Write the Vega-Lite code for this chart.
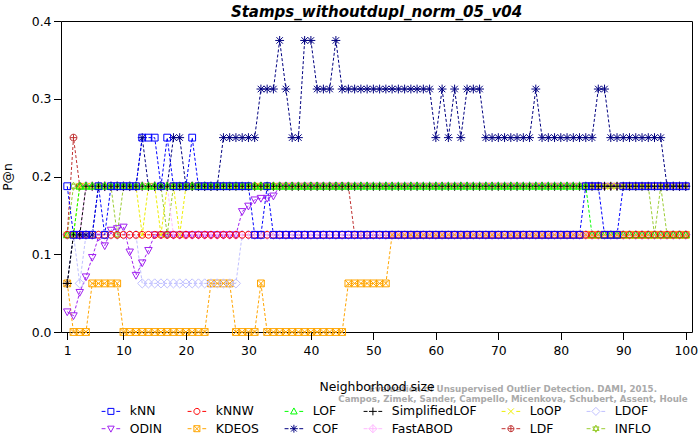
{
"$schema": "https://vega.github.io/schema/vega-lite/v6.json",
"width": 631, "height": 311,
"autosize": "none",
"padding": {"left": 61, "top": 21, "right": 7, "bottom": 102},
"background": "white",
"title": {"text": "Stamps_withoutdupl_norm_05_v04", "font": "DejaVu Sans", "fontSize": 15, "fontStyle": "italic", "fontWeight": "bold", "color": "#000000", "anchor": "middle", "frame": "group", "offset": -5},
"config": {
  "view": {"stroke": "#000000", "strokeWidth": 1},
  "axis": {"labelFont": "DejaVu Sans", "titleFont": "DejaVu Sans", "labelFontSize": 12.4, "titleFontSize": 12.4, "labelColor": "#000000", "titleColor": "#000000", "tickColor": "#000000", "titleFontWeight": "normal", "grid": false, "domain": false, "tickSize": 7.5, "labelFlush": false}
},
"data": {"values": [
{"m":"INFLO","k":1,"v":0.125},{"m":"INFLO","k":2,"v":0.1875},{"m":"INFLO","k":3,"v":0.1875},{"m":"INFLO","k":4,"v":0.1875},{"m":"INFLO","k":5,"v":0.1875},{"m":"INFLO","k":6,"v":0.1875},{"m":"INFLO","k":7,"v":0.1875},{"m":"INFLO","k":8,"v":0.1875},{"m":"INFLO","k":9,"v":0.125},{"m":"INFLO","k":10,"v":0.1875},
{"m":"INFLO","k":11,"v":0.1875},{"m":"INFLO","k":12,"v":0.1875},{"m":"INFLO","k":13,"v":0.1875},{"m":"INFLO","k":14,"v":0.1875},{"m":"INFLO","k":15,"v":0.1875},{"m":"INFLO","k":16,"v":0.1875},{"m":"INFLO","k":17,"v":0.125},{"m":"INFLO","k":18,"v":0.1875},{"m":"INFLO","k":19,"v":0.1875},{"m":"INFLO","k":20,"v":0.1875},
{"m":"INFLO","k":21,"v":0.1875},{"m":"INFLO","k":22,"v":0.1875},{"m":"INFLO","k":23,"v":0.1875},{"m":"INFLO","k":24,"v":0.1875},{"m":"INFLO","k":25,"v":0.1875},{"m":"INFLO","k":26,"v":0.1875},{"m":"INFLO","k":27,"v":0.1875},{"m":"INFLO","k":28,"v":0.1875},{"m":"INFLO","k":29,"v":0.1875},{"m":"INFLO","k":30,"v":0.1875},
{"m":"INFLO","k":31,"v":0.1875},{"m":"INFLO","k":32,"v":0.1875},{"m":"INFLO","k":33,"v":0.1875},{"m":"INFLO","k":34,"v":0.1875},{"m":"INFLO","k":35,"v":0.1875},{"m":"INFLO","k":36,"v":0.1875},{"m":"INFLO","k":37,"v":0.1875},{"m":"INFLO","k":38,"v":0.1875},{"m":"INFLO","k":39,"v":0.1875},{"m":"INFLO","k":40,"v":0.1875},
{"m":"INFLO","k":41,"v":0.1875},{"m":"INFLO","k":42,"v":0.1875},{"m":"INFLO","k":43,"v":0.1875},{"m":"INFLO","k":44,"v":0.1875},{"m":"INFLO","k":45,"v":0.1875},{"m":"INFLO","k":46,"v":0.1875},{"m":"INFLO","k":47,"v":0.1875},{"m":"INFLO","k":48,"v":0.1875},{"m":"INFLO","k":49,"v":0.1875},{"m":"INFLO","k":50,"v":0.1875},
{"m":"INFLO","k":51,"v":0.1875},{"m":"INFLO","k":52,"v":0.1875},{"m":"INFLO","k":53,"v":0.1875},{"m":"INFLO","k":54,"v":0.1875},{"m":"INFLO","k":55,"v":0.1875},{"m":"INFLO","k":56,"v":0.1875},{"m":"INFLO","k":57,"v":0.1875},{"m":"INFLO","k":58,"v":0.1875},{"m":"INFLO","k":59,"v":0.1875},{"m":"INFLO","k":60,"v":0.1875},
{"m":"INFLO","k":61,"v":0.1875},{"m":"INFLO","k":62,"v":0.1875},{"m":"INFLO","k":63,"v":0.1875},{"m":"INFLO","k":64,"v":0.1875},{"m":"INFLO","k":65,"v":0.1875},{"m":"INFLO","k":66,"v":0.1875},{"m":"INFLO","k":67,"v":0.1875},{"m":"INFLO","k":68,"v":0.1875},{"m":"INFLO","k":69,"v":0.1875},{"m":"INFLO","k":70,"v":0.1875},
{"m":"INFLO","k":71,"v":0.1875},{"m":"INFLO","k":72,"v":0.1875},{"m":"INFLO","k":73,"v":0.1875},{"m":"INFLO","k":74,"v":0.1875},{"m":"INFLO","k":75,"v":0.1875},{"m":"INFLO","k":76,"v":0.1875},{"m":"INFLO","k":77,"v":0.1875},{"m":"INFLO","k":78,"v":0.1875},{"m":"INFLO","k":79,"v":0.1875},{"m":"INFLO","k":80,"v":0.1875},
{"m":"INFLO","k":81,"v":0.1875},{"m":"INFLO","k":82,"v":0.1875},{"m":"INFLO","k":83,"v":0.1875},{"m":"INFLO","k":84,"v":0.1875},{"m":"INFLO","k":85,"v":0.1875},{"m":"INFLO","k":86,"v":0.1875},{"m":"INFLO","k":87,"v":0.1875},{"m":"INFLO","k":88,"v":0.1875},{"m":"INFLO","k":89,"v":0.1875},{"m":"INFLO","k":90,"v":0.1875},
{"m":"INFLO","k":91,"v":0.1875},{"m":"INFLO","k":92,"v":0.1875},{"m":"INFLO","k":93,"v":0.1875},{"m":"INFLO","k":94,"v":0.1875},{"m":"INFLO","k":95,"v":0.125},{"m":"INFLO","k":96,"v":0.1875},{"m":"INFLO","k":97,"v":0.125},{"m":"INFLO","k":98,"v":0.125},{"m":"INFLO","k":99,"v":0.125},{"m":"INFLO","k":100,"v":0.125},
{"m":"LDF","k":1,"v":0.125},{"m":"LDF","k":2,"v":0.25},{"m":"LDF","k":3,"v":0.1875},{"m":"LDF","k":4,"v":0.1875},{"m":"LDF","k":5,"v":0.1875},{"m":"LDF","k":6,"v":0.1875},{"m":"LDF","k":7,"v":0.1875},{"m":"LDF","k":8,"v":0.1875},{"m":"LDF","k":9,"v":0.1875},{"m":"LDF","k":10,"v":0.1875},
{"m":"LDF","k":11,"v":0.1875},{"m":"LDF","k":12,"v":0.1875},{"m":"LDF","k":13,"v":0.1875},{"m":"LDF","k":14,"v":0.1875},{"m":"LDF","k":15,"v":0.1875},{"m":"LDF","k":16,"v":0.1875},{"m":"LDF","k":17,"v":0.1875},{"m":"LDF","k":18,"v":0.1875},{"m":"LDF","k":19,"v":0.1875},{"m":"LDF","k":20,"v":0.1875},
{"m":"LDF","k":21,"v":0.1875},{"m":"LDF","k":22,"v":0.1875},{"m":"LDF","k":23,"v":0.1875},{"m":"LDF","k":24,"v":0.1875},{"m":"LDF","k":25,"v":0.1875},{"m":"LDF","k":26,"v":0.1875},{"m":"LDF","k":27,"v":0.1875},{"m":"LDF","k":28,"v":0.1875},{"m":"LDF","k":29,"v":0.1875},{"m":"LDF","k":30,"v":0.1875},
{"m":"LDF","k":31,"v":0.1875},{"m":"LDF","k":32,"v":0.1875},{"m":"LDF","k":33,"v":0.1875},{"m":"LDF","k":34,"v":0.1875},{"m":"LDF","k":35,"v":0.1875},{"m":"LDF","k":36,"v":0.1875},{"m":"LDF","k":37,"v":0.1875},{"m":"LDF","k":38,"v":0.1875},{"m":"LDF","k":39,"v":0.1875},{"m":"LDF","k":40,"v":0.1875},
{"m":"LDF","k":41,"v":0.1875},{"m":"LDF","k":42,"v":0.1875},{"m":"LDF","k":43,"v":0.1875},{"m":"LDF","k":44,"v":0.1875},{"m":"LDF","k":45,"v":0.1875},{"m":"LDF","k":46,"v":0.1875},{"m":"LDF","k":47,"v":0.125},{"m":"LDF","k":48,"v":0.125},{"m":"LDF","k":49,"v":0.125},{"m":"LDF","k":50,"v":0.125},
{"m":"LDF","k":51,"v":0.125},{"m":"LDF","k":52,"v":0.125},{"m":"LDF","k":53,"v":0.125},{"m":"LDF","k":54,"v":0.125},{"m":"LDF","k":55,"v":0.125},{"m":"LDF","k":56,"v":0.125},{"m":"LDF","k":57,"v":0.125},{"m":"LDF","k":58,"v":0.125},{"m":"LDF","k":59,"v":0.125},{"m":"LDF","k":60,"v":0.125},
{"m":"LDF","k":61,"v":0.125},{"m":"LDF","k":62,"v":0.125},{"m":"LDF","k":63,"v":0.125},{"m":"LDF","k":64,"v":0.125},{"m":"LDF","k":65,"v":0.125},{"m":"LDF","k":66,"v":0.125},{"m":"LDF","k":67,"v":0.125},{"m":"LDF","k":68,"v":0.125},{"m":"LDF","k":69,"v":0.125},{"m":"LDF","k":70,"v":0.125},
{"m":"LDF","k":71,"v":0.125},{"m":"LDF","k":72,"v":0.125},{"m":"LDF","k":73,"v":0.125},{"m":"LDF","k":74,"v":0.125},{"m":"LDF","k":75,"v":0.125},{"m":"LDF","k":76,"v":0.125},{"m":"LDF","k":77,"v":0.125},{"m":"LDF","k":78,"v":0.125},{"m":"LDF","k":79,"v":0.125},{"m":"LDF","k":80,"v":0.125},
{"m":"LDF","k":81,"v":0.125},{"m":"LDF","k":82,"v":0.125},{"m":"LDF","k":83,"v":0.125},{"m":"LDF","k":84,"v":0.125},{"m":"LDF","k":85,"v":0.125},{"m":"LDF","k":86,"v":0.125},{"m":"LDF","k":87,"v":0.125},{"m":"LDF","k":88,"v":0.125},{"m":"LDF","k":89,"v":0.125},{"m":"LDF","k":90,"v":0.125},
{"m":"LDF","k":91,"v":0.125},{"m":"LDF","k":92,"v":0.125},{"m":"LDF","k":93,"v":0.125},{"m":"LDF","k":94,"v":0.125},{"m":"LDF","k":95,"v":0.125},{"m":"LDF","k":96,"v":0.125},{"m":"LDF","k":97,"v":0.125},{"m":"LDF","k":98,"v":0.125},{"m":"LDF","k":99,"v":0.125},{"m":"LDF","k":100,"v":0.125},
{"m":"FastABOD","k":1,"v":0.125},{"m":"FastABOD","k":2,"v":0.125},{"m":"FastABOD","k":3,"v":0.125},{"m":"FastABOD","k":4,"v":0.1875},{"m":"FastABOD","k":5,"v":0.1875},{"m":"FastABOD","k":6,"v":0.1875},{"m":"FastABOD","k":7,"v":0.1875},{"m":"FastABOD","k":8,"v":0.1875},{"m":"FastABOD","k":9,"v":0.1875},{"m":"FastABOD","k":10,"v":0.1875},
{"m":"FastABOD","k":11,"v":0.1875},{"m":"FastABOD","k":12,"v":0.1875},{"m":"FastABOD","k":13,"v":0.1875},{"m":"FastABOD","k":14,"v":0.1875},{"m":"FastABOD","k":15,"v":0.1875},{"m":"FastABOD","k":16,"v":0.1875},{"m":"FastABOD","k":17,"v":0.1875},{"m":"FastABOD","k":18,"v":0.125},{"m":"FastABOD","k":19,"v":0.125},{"m":"FastABOD","k":20,"v":0.125},
{"m":"FastABOD","k":21,"v":0.125},{"m":"FastABOD","k":22,"v":0.125},{"m":"FastABOD","k":23,"v":0.125},{"m":"FastABOD","k":24,"v":0.125},{"m":"FastABOD","k":25,"v":0.125},{"m":"FastABOD","k":26,"v":0.125},{"m":"FastABOD","k":27,"v":0.125},{"m":"FastABOD","k":28,"v":0.125},{"m":"FastABOD","k":29,"v":0.125},{"m":"FastABOD","k":30,"v":0.125},
{"m":"FastABOD","k":31,"v":0.125},{"m":"FastABOD","k":32,"v":0.125},{"m":"FastABOD","k":33,"v":0.125},{"m":"FastABOD","k":34,"v":0.125},{"m":"FastABOD","k":35,"v":0.125},{"m":"FastABOD","k":36,"v":0.125},{"m":"FastABOD","k":37,"v":0.125},{"m":"FastABOD","k":38,"v":0.125},{"m":"FastABOD","k":39,"v":0.125},{"m":"FastABOD","k":40,"v":0.125},
{"m":"FastABOD","k":41,"v":0.125},{"m":"FastABOD","k":42,"v":0.125},{"m":"FastABOD","k":43,"v":0.125},{"m":"FastABOD","k":44,"v":0.125},{"m":"FastABOD","k":45,"v":0.125},{"m":"FastABOD","k":46,"v":0.125},{"m":"FastABOD","k":47,"v":0.125},{"m":"FastABOD","k":48,"v":0.125},{"m":"FastABOD","k":49,"v":0.125},{"m":"FastABOD","k":50,"v":0.125},
{"m":"FastABOD","k":51,"v":0.125},{"m":"FastABOD","k":52,"v":0.125},{"m":"FastABOD","k":53,"v":0.125},{"m":"FastABOD","k":54,"v":0.125},{"m":"FastABOD","k":55,"v":0.125},{"m":"FastABOD","k":56,"v":0.125},{"m":"FastABOD","k":57,"v":0.125},{"m":"FastABOD","k":58,"v":0.125},{"m":"FastABOD","k":59,"v":0.125},{"m":"FastABOD","k":60,"v":0.125},
{"m":"FastABOD","k":61,"v":0.125},{"m":"FastABOD","k":62,"v":0.125},{"m":"FastABOD","k":63,"v":0.125},{"m":"FastABOD","k":64,"v":0.125},{"m":"FastABOD","k":65,"v":0.125},{"m":"FastABOD","k":66,"v":0.125},{"m":"FastABOD","k":67,"v":0.125},{"m":"FastABOD","k":68,"v":0.125},{"m":"FastABOD","k":69,"v":0.125},{"m":"FastABOD","k":70,"v":0.125},
{"m":"FastABOD","k":71,"v":0.125},{"m":"FastABOD","k":72,"v":0.125},{"m":"FastABOD","k":73,"v":0.125},{"m":"FastABOD","k":74,"v":0.125},{"m":"FastABOD","k":75,"v":0.125},{"m":"FastABOD","k":76,"v":0.125},{"m":"FastABOD","k":77,"v":0.125},{"m":"FastABOD","k":78,"v":0.125},{"m":"FastABOD","k":79,"v":0.125},{"m":"FastABOD","k":80,"v":0.125},
{"m":"FastABOD","k":81,"v":0.125},{"m":"FastABOD","k":82,"v":0.125},{"m":"FastABOD","k":83,"v":0.125},{"m":"FastABOD","k":84,"v":0.125},{"m":"FastABOD","k":85,"v":0.125},{"m":"FastABOD","k":86,"v":0.125},{"m":"FastABOD","k":87,"v":0.125},{"m":"FastABOD","k":88,"v":0.125},{"m":"FastABOD","k":89,"v":0.125},{"m":"FastABOD","k":90,"v":0.125},
{"m":"FastABOD","k":91,"v":0.125},{"m":"FastABOD","k":92,"v":0.125},{"m":"FastABOD","k":93,"v":0.125},{"m":"FastABOD","k":94,"v":0.125},{"m":"FastABOD","k":95,"v":0.125},{"m":"FastABOD","k":96,"v":0.125},{"m":"FastABOD","k":97,"v":0.125},{"m":"FastABOD","k":98,"v":0.125},{"m":"FastABOD","k":99,"v":0.125},{"m":"FastABOD","k":100,"v":0.125},
{"m":"COF","k":1,"v":0.0625},{"m":"COF","k":2,"v":0.125},{"m":"COF","k":3,"v":0.125},{"m":"COF","k":4,"v":0.125},{"m":"COF","k":5,"v":0.125},{"m":"COF","k":6,"v":0.1875},{"m":"COF","k":7,"v":0.1875},{"m":"COF","k":8,"v":0.1875},{"m":"COF","k":9,"v":0.1875},{"m":"COF","k":10,"v":0.1875},
{"m":"COF","k":11,"v":0.1875},{"m":"COF","k":12,"v":0.1875},{"m":"COF","k":13,"v":0.25},{"m":"COF","k":14,"v":0.1875},{"m":"COF","k":15,"v":0.1875},{"m":"COF","k":16,"v":0.1875},{"m":"COF","k":17,"v":0.1875},{"m":"COF","k":18,"v":0.25},{"m":"COF","k":19,"v":0.25},{"m":"COF","k":20,"v":0.1875},
{"m":"COF","k":21,"v":0.1875},{"m":"COF","k":22,"v":0.1875},{"m":"COF","k":23,"v":0.1875},{"m":"COF","k":24,"v":0.1875},{"m":"COF","k":25,"v":0.1875},{"m":"COF","k":26,"v":0.25},{"m":"COF","k":27,"v":0.25},{"m":"COF","k":28,"v":0.25},{"m":"COF","k":29,"v":0.25},{"m":"COF","k":30,"v":0.25},
{"m":"COF","k":31,"v":0.25},{"m":"COF","k":32,"v":0.3125},{"m":"COF","k":33,"v":0.3125},{"m":"COF","k":34,"v":0.3125},{"m":"COF","k":35,"v":0.375},{"m":"COF","k":36,"v":0.3125},{"m":"COF","k":37,"v":0.25},{"m":"COF","k":38,"v":0.25},{"m":"COF","k":39,"v":0.375},{"m":"COF","k":40,"v":0.375},
{"m":"COF","k":41,"v":0.3125},{"m":"COF","k":42,"v":0.3125},{"m":"COF","k":43,"v":0.3125},{"m":"COF","k":44,"v":0.375},{"m":"COF","k":45,"v":0.3125},{"m":"COF","k":46,"v":0.3125},{"m":"COF","k":47,"v":0.3125},{"m":"COF","k":48,"v":0.3125},{"m":"COF","k":49,"v":0.3125},{"m":"COF","k":50,"v":0.3125},
{"m":"COF","k":51,"v":0.3125},{"m":"COF","k":52,"v":0.3125},{"m":"COF","k":53,"v":0.3125},{"m":"COF","k":54,"v":0.3125},{"m":"COF","k":55,"v":0.3125},{"m":"COF","k":56,"v":0.3125},{"m":"COF","k":57,"v":0.3125},{"m":"COF","k":58,"v":0.3125},{"m":"COF","k":59,"v":0.3125},{"m":"COF","k":60,"v":0.25},
{"m":"COF","k":61,"v":0.3125},{"m":"COF","k":62,"v":0.25},{"m":"COF","k":63,"v":0.3125},{"m":"COF","k":64,"v":0.25},{"m":"COF","k":65,"v":0.3125},{"m":"COF","k":66,"v":0.3125},{"m":"COF","k":67,"v":0.3125},{"m":"COF","k":68,"v":0.25},{"m":"COF","k":69,"v":0.25},{"m":"COF","k":70,"v":0.25},
{"m":"COF","k":71,"v":0.25},{"m":"COF","k":72,"v":0.25},{"m":"COF","k":73,"v":0.25},{"m":"COF","k":74,"v":0.25},{"m":"COF","k":75,"v":0.25},{"m":"COF","k":76,"v":0.3125},{"m":"COF","k":77,"v":0.25},{"m":"COF","k":78,"v":0.25},{"m":"COF","k":79,"v":0.25},{"m":"COF","k":80,"v":0.25},
{"m":"COF","k":81,"v":0.25},{"m":"COF","k":82,"v":0.25},{"m":"COF","k":83,"v":0.25},{"m":"COF","k":84,"v":0.25},{"m":"COF","k":85,"v":0.25},{"m":"COF","k":86,"v":0.3125},{"m":"COF","k":87,"v":0.3125},{"m":"COF","k":88,"v":0.25},{"m":"COF","k":89,"v":0.25},{"m":"COF","k":90,"v":0.25},
{"m":"COF","k":91,"v":0.25},{"m":"COF","k":92,"v":0.25},{"m":"COF","k":93,"v":0.25},{"m":"COF","k":94,"v":0.25},{"m":"COF","k":95,"v":0.25},{"m":"COF","k":96,"v":0.25},{"m":"COF","k":97,"v":0.1875},{"m":"COF","k":98,"v":0.1875},{"m":"COF","k":99,"v":0.1875},{"m":"COF","k":100,"v":0.1875},
{"m":"KDEOS","k":1,"v":0.0625},{"m":"KDEOS","k":2,"v":0},{"m":"KDEOS","k":3,"v":0},{"m":"KDEOS","k":4,"v":0},{"m":"KDEOS","k":5,"v":0.0625},{"m":"KDEOS","k":6,"v":0.0625},{"m":"KDEOS","k":7,"v":0.0625},{"m":"KDEOS","k":8,"v":0.0625},{"m":"KDEOS","k":9,"v":0.0625},{"m":"KDEOS","k":10,"v":0},
{"m":"KDEOS","k":11,"v":0},{"m":"KDEOS","k":12,"v":0},{"m":"KDEOS","k":13,"v":0},{"m":"KDEOS","k":14,"v":0},{"m":"KDEOS","k":15,"v":0},{"m":"KDEOS","k":16,"v":0},{"m":"KDEOS","k":17,"v":0},{"m":"KDEOS","k":18,"v":0},{"m":"KDEOS","k":19,"v":0},{"m":"KDEOS","k":20,"v":0},
{"m":"KDEOS","k":21,"v":0},{"m":"KDEOS","k":22,"v":0},{"m":"KDEOS","k":23,"v":0},{"m":"KDEOS","k":24,"v":0.0625},{"m":"KDEOS","k":25,"v":0.0625},{"m":"KDEOS","k":26,"v":0.0625},{"m":"KDEOS","k":27,"v":0.0625},{"m":"KDEOS","k":28,"v":0},{"m":"KDEOS","k":29,"v":0},{"m":"KDEOS","k":30,"v":0},
{"m":"KDEOS","k":31,"v":0},{"m":"KDEOS","k":32,"v":0.0625},{"m":"KDEOS","k":33,"v":0},{"m":"KDEOS","k":34,"v":0},{"m":"KDEOS","k":35,"v":0},{"m":"KDEOS","k":36,"v":0},{"m":"KDEOS","k":37,"v":0},{"m":"KDEOS","k":38,"v":0},{"m":"KDEOS","k":39,"v":0},{"m":"KDEOS","k":40,"v":0},
{"m":"KDEOS","k":41,"v":0},{"m":"KDEOS","k":42,"v":0},{"m":"KDEOS","k":43,"v":0},{"m":"KDEOS","k":44,"v":0},{"m":"KDEOS","k":45,"v":0},{"m":"KDEOS","k":46,"v":0.0625},{"m":"KDEOS","k":47,"v":0.0625},{"m":"KDEOS","k":48,"v":0.0625},{"m":"KDEOS","k":49,"v":0.0625},{"m":"KDEOS","k":50,"v":0.0625},
{"m":"KDEOS","k":51,"v":0.0625},{"m":"KDEOS","k":52,"v":0.0625},{"m":"KDEOS","k":53,"v":0.125},{"m":"KDEOS","k":54,"v":0.125},{"m":"KDEOS","k":55,"v":0.125},{"m":"KDEOS","k":56,"v":0.125},{"m":"KDEOS","k":57,"v":0.125},{"m":"KDEOS","k":58,"v":0.125},{"m":"KDEOS","k":59,"v":0.125},{"m":"KDEOS","k":60,"v":0.125},
{"m":"KDEOS","k":61,"v":0.125},{"m":"KDEOS","k":62,"v":0.125},{"m":"KDEOS","k":63,"v":0.125},{"m":"KDEOS","k":64,"v":0.125},{"m":"KDEOS","k":65,"v":0.125},{"m":"KDEOS","k":66,"v":0.125},{"m":"KDEOS","k":67,"v":0.125},{"m":"KDEOS","k":68,"v":0.125},{"m":"KDEOS","k":69,"v":0.125},{"m":"KDEOS","k":70,"v":0.125},
{"m":"KDEOS","k":71,"v":0.125},{"m":"KDEOS","k":72,"v":0.125},{"m":"KDEOS","k":73,"v":0.125},{"m":"KDEOS","k":74,"v":0.125},{"m":"KDEOS","k":75,"v":0.125},{"m":"KDEOS","k":76,"v":0.125},{"m":"KDEOS","k":77,"v":0.125},{"m":"KDEOS","k":78,"v":0.125},{"m":"KDEOS","k":79,"v":0.125},{"m":"KDEOS","k":80,"v":0.125},
{"m":"KDEOS","k":81,"v":0.125},{"m":"KDEOS","k":82,"v":0.125},{"m":"KDEOS","k":83,"v":0.125},{"m":"KDEOS","k":84,"v":0.125},{"m":"KDEOS","k":85,"v":0.125},{"m":"KDEOS","k":86,"v":0.125},{"m":"KDEOS","k":87,"v":0.125},{"m":"KDEOS","k":88,"v":0.125},{"m":"KDEOS","k":89,"v":0.125},{"m":"KDEOS","k":90,"v":0.125},
{"m":"KDEOS","k":91,"v":0.125},{"m":"KDEOS","k":92,"v":0.125},{"m":"KDEOS","k":93,"v":0.125},{"m":"KDEOS","k":94,"v":0.125},{"m":"KDEOS","k":95,"v":0.125},{"m":"KDEOS","k":96,"v":0.125},{"m":"KDEOS","k":97,"v":0.125},{"m":"KDEOS","k":98,"v":0.125},{"m":"KDEOS","k":99,"v":0.125},{"m":"KDEOS","k":100,"v":0.125},
{"m":"ODIN","k":1,"v":0.026},{"m":"ODIN","k":2,"v":0.021},{"m":"ODIN","k":3,"v":0.051},{"m":"ODIN","k":4,"v":0.071},{"m":"ODIN","k":5,"v":0.096},{"m":"ODIN","k":6,"v":0.122},{"m":"ODIN","k":7,"v":0.111},{"m":"ODIN","k":8,"v":0.131},{"m":"ODIN","k":9,"v":0.133},{"m":"ODIN","k":10,"v":0.135},
{"m":"ODIN","k":11,"v":0.103},{"m":"ODIN","k":12,"v":0.073},{"m":"ODIN","k":13,"v":0.089},{"m":"ODIN","k":14,"v":0.105},{"m":"ODIN","k":15,"v":0.125},{"m":"ODIN","k":16,"v":0.125},{"m":"ODIN","k":17,"v":0.125},{"m":"ODIN","k":18,"v":0.125},{"m":"ODIN","k":19,"v":0.125},{"m":"ODIN","k":20,"v":0.125},
{"m":"ODIN","k":21,"v":0.125},{"m":"ODIN","k":22,"v":0.125},{"m":"ODIN","k":23,"v":0.125},{"m":"ODIN","k":24,"v":0.125},{"m":"ODIN","k":25,"v":0.125},{"m":"ODIN","k":26,"v":0.125},{"m":"ODIN","k":27,"v":0.125},{"m":"ODIN","k":28,"v":0.125},{"m":"ODIN","k":29,"v":0.155},{"m":"ODIN","k":30,"v":0.162},
{"m":"ODIN","k":31,"v":0.17},{"m":"ODIN","k":32,"v":0.172},{"m":"ODIN","k":33,"v":0.172},{"m":"ODIN","k":34,"v":0.175},{"m":"ODIN","k":35,"v":0.1875},{"m":"ODIN","k":36,"v":0.1875},{"m":"ODIN","k":37,"v":0.1875},{"m":"ODIN","k":38,"v":0.1875},{"m":"ODIN","k":39,"v":0.1875},{"m":"ODIN","k":40,"v":0.1875},
{"m":"ODIN","k":41,"v":0.1875},{"m":"ODIN","k":42,"v":0.1875},{"m":"ODIN","k":43,"v":0.1875},{"m":"ODIN","k":44,"v":0.1875},{"m":"ODIN","k":45,"v":0.1875},{"m":"ODIN","k":46,"v":0.1875},{"m":"ODIN","k":47,"v":0.1875},{"m":"ODIN","k":48,"v":0.1875},{"m":"ODIN","k":49,"v":0.1875},{"m":"ODIN","k":50,"v":0.1875},
{"m":"ODIN","k":51,"v":0.1875},{"m":"ODIN","k":52,"v":0.1875},{"m":"ODIN","k":53,"v":0.1875},{"m":"ODIN","k":54,"v":0.1875},{"m":"ODIN","k":55,"v":0.1875},{"m":"ODIN","k":56,"v":0.1875},{"m":"ODIN","k":57,"v":0.1875},{"m":"ODIN","k":58,"v":0.1875},{"m":"ODIN","k":59,"v":0.1875},{"m":"ODIN","k":60,"v":0.1875},
{"m":"ODIN","k":61,"v":0.1875},{"m":"ODIN","k":62,"v":0.1875},{"m":"ODIN","k":63,"v":0.1875},{"m":"ODIN","k":64,"v":0.1875},{"m":"ODIN","k":65,"v":0.1875},{"m":"ODIN","k":66,"v":0.1875},{"m":"ODIN","k":67,"v":0.1875},{"m":"ODIN","k":68,"v":0.1875},{"m":"ODIN","k":69,"v":0.1875},{"m":"ODIN","k":70,"v":0.1875},
{"m":"ODIN","k":71,"v":0.1875},{"m":"ODIN","k":72,"v":0.1875},{"m":"ODIN","k":73,"v":0.1875},{"m":"ODIN","k":74,"v":0.1875},{"m":"ODIN","k":75,"v":0.1875},{"m":"ODIN","k":76,"v":0.1875},{"m":"ODIN","k":77,"v":0.1875},{"m":"ODIN","k":78,"v":0.1875},{"m":"ODIN","k":79,"v":0.1875},{"m":"ODIN","k":80,"v":0.1875},
{"m":"ODIN","k":81,"v":0.1875},{"m":"ODIN","k":82,"v":0.1875},{"m":"ODIN","k":83,"v":0.1875},{"m":"ODIN","k":84,"v":0.1875},{"m":"ODIN","k":85,"v":0.1875},{"m":"ODIN","k":86,"v":0.1875},{"m":"ODIN","k":87,"v":0.1875},{"m":"ODIN","k":88,"v":0.1875},{"m":"ODIN","k":89,"v":0.1875},{"m":"ODIN","k":90,"v":0.1875},
{"m":"ODIN","k":91,"v":0.1875},{"m":"ODIN","k":92,"v":0.1875},{"m":"ODIN","k":93,"v":0.1875},{"m":"ODIN","k":94,"v":0.1875},{"m":"ODIN","k":95,"v":0.1875},{"m":"ODIN","k":96,"v":0.1875},{"m":"ODIN","k":97,"v":0.1875},{"m":"ODIN","k":98,"v":0.1875},{"m":"ODIN","k":99,"v":0.1875},{"m":"ODIN","k":100,"v":0.1875},
{"m":"LDOF","k":1,"v":0.125},{"m":"LDOF","k":2,"v":0.125},{"m":"LDOF","k":3,"v":0.0625},{"m":"LDOF","k":4,"v":0.125},{"m":"LDOF","k":5,"v":0.125},{"m":"LDOF","k":6,"v":0.125},{"m":"LDOF","k":7,"v":0.125},{"m":"LDOF","k":8,"v":0.125},{"m":"LDOF","k":9,"v":0.125},{"m":"LDOF","k":10,"v":0.125},
{"m":"LDOF","k":11,"v":0.125},{"m":"LDOF","k":12,"v":0.125},{"m":"LDOF","k":13,"v":0.0625},{"m":"LDOF","k":14,"v":0.0625},{"m":"LDOF","k":15,"v":0.0625},{"m":"LDOF","k":16,"v":0.0625},{"m":"LDOF","k":17,"v":0.0625},{"m":"LDOF","k":18,"v":0.0625},{"m":"LDOF","k":19,"v":0.0625},{"m":"LDOF","k":20,"v":0.0625},
{"m":"LDOF","k":21,"v":0.0625},{"m":"LDOF","k":22,"v":0.0625},{"m":"LDOF","k":23,"v":0.0625},{"m":"LDOF","k":24,"v":0.0625},{"m":"LDOF","k":25,"v":0.0625},{"m":"LDOF","k":26,"v":0.0625},{"m":"LDOF","k":27,"v":0.0625},{"m":"LDOF","k":28,"v":0.0625},{"m":"LDOF","k":29,"v":0.125},{"m":"LDOF","k":30,"v":0.125},
{"m":"LDOF","k":31,"v":0.125},{"m":"LDOF","k":32,"v":0.125},{"m":"LDOF","k":33,"v":0.125},{"m":"LDOF","k":34,"v":0.125},{"m":"LDOF","k":35,"v":0.125},{"m":"LDOF","k":36,"v":0.125},{"m":"LDOF","k":37,"v":0.125},{"m":"LDOF","k":38,"v":0.125},{"m":"LDOF","k":39,"v":0.125},{"m":"LDOF","k":40,"v":0.125},
{"m":"LDOF","k":41,"v":0.125},{"m":"LDOF","k":42,"v":0.125},{"m":"LDOF","k":43,"v":0.125},{"m":"LDOF","k":44,"v":0.125},{"m":"LDOF","k":45,"v":0.125},{"m":"LDOF","k":46,"v":0.125},{"m":"LDOF","k":47,"v":0.125},{"m":"LDOF","k":48,"v":0.125},{"m":"LDOF","k":49,"v":0.125},{"m":"LDOF","k":50,"v":0.125},
{"m":"LDOF","k":51,"v":0.125},{"m":"LDOF","k":52,"v":0.125},{"m":"LDOF","k":53,"v":0.125},{"m":"LDOF","k":54,"v":0.125},{"m":"LDOF","k":55,"v":0.125},{"m":"LDOF","k":56,"v":0.125},{"m":"LDOF","k":57,"v":0.125},{"m":"LDOF","k":58,"v":0.125},{"m":"LDOF","k":59,"v":0.125},{"m":"LDOF","k":60,"v":0.125},
{"m":"LDOF","k":61,"v":0.125},{"m":"LDOF","k":62,"v":0.125},{"m":"LDOF","k":63,"v":0.125},{"m":"LDOF","k":64,"v":0.125},{"m":"LDOF","k":65,"v":0.125},{"m":"LDOF","k":66,"v":0.125},{"m":"LDOF","k":67,"v":0.125},{"m":"LDOF","k":68,"v":0.125},{"m":"LDOF","k":69,"v":0.125},{"m":"LDOF","k":70,"v":0.125},
{"m":"LDOF","k":71,"v":0.125},{"m":"LDOF","k":72,"v":0.125},{"m":"LDOF","k":73,"v":0.125},{"m":"LDOF","k":74,"v":0.125},{"m":"LDOF","k":75,"v":0.125},{"m":"LDOF","k":76,"v":0.125},{"m":"LDOF","k":77,"v":0.125},{"m":"LDOF","k":78,"v":0.125},{"m":"LDOF","k":79,"v":0.125},{"m":"LDOF","k":80,"v":0.125},
{"m":"LDOF","k":81,"v":0.125},{"m":"LDOF","k":82,"v":0.125},{"m":"LDOF","k":83,"v":0.125},{"m":"LDOF","k":84,"v":0.125},{"m":"LDOF","k":85,"v":0.125},{"m":"LDOF","k":86,"v":0.125},{"m":"LDOF","k":87,"v":0.125},{"m":"LDOF","k":88,"v":0.125},{"m":"LDOF","k":89,"v":0.125},{"m":"LDOF","k":90,"v":0.125},
{"m":"LDOF","k":91,"v":0.125},{"m":"LDOF","k":92,"v":0.125},{"m":"LDOF","k":93,"v":0.125},{"m":"LDOF","k":94,"v":0.125},{"m":"LDOF","k":95,"v":0.125},{"m":"LDOF","k":96,"v":0.125},{"m":"LDOF","k":97,"v":0.125},{"m":"LDOF","k":98,"v":0.125},{"m":"LDOF","k":99,"v":0.125},{"m":"LDOF","k":100,"v":0.125},
{"m":"LoOP","k":1,"v":0.125},{"m":"LoOP","k":2,"v":0.125},{"m":"LoOP","k":3,"v":0.1875},{"m":"LoOP","k":4,"v":0.1875},{"m":"LoOP","k":5,"v":0.1875},{"m":"LoOP","k":6,"v":0.1875},{"m":"LoOP","k":7,"v":0.1875},{"m":"LoOP","k":8,"v":0.1875},{"m":"LoOP","k":9,"v":0.1875},{"m":"LoOP","k":10,"v":0.1875},
{"m":"LoOP","k":11,"v":0.1875},{"m":"LoOP","k":12,"v":0.1875},{"m":"LoOP","k":13,"v":0.125},{"m":"LoOP","k":14,"v":0.1875},{"m":"LoOP","k":15,"v":0.1875},{"m":"LoOP","k":16,"v":0.125},{"m":"LoOP","k":17,"v":0.1875},{"m":"LoOP","k":18,"v":0.1875},{"m":"LoOP","k":19,"v":0.125},{"m":"LoOP","k":20,"v":0.1875},
{"m":"LoOP","k":21,"v":0.1875},{"m":"LoOP","k":22,"v":0.1875},{"m":"LoOP","k":23,"v":0.1875},{"m":"LoOP","k":24,"v":0.1875},{"m":"LoOP","k":25,"v":0.1875},{"m":"LoOP","k":26,"v":0.1875},{"m":"LoOP","k":27,"v":0.1875},{"m":"LoOP","k":28,"v":0.1875},{"m":"LoOP","k":29,"v":0.1875},{"m":"LoOP","k":30,"v":0.1875},
{"m":"LoOP","k":31,"v":0.1875},{"m":"LoOP","k":32,"v":0.1875},{"m":"LoOP","k":33,"v":0.1875},{"m":"LoOP","k":34,"v":0.1875},{"m":"LoOP","k":35,"v":0.1875},{"m":"LoOP","k":36,"v":0.1875},{"m":"LoOP","k":37,"v":0.1875},{"m":"LoOP","k":38,"v":0.1875},{"m":"LoOP","k":39,"v":0.1875},{"m":"LoOP","k":40,"v":0.1875},
{"m":"LoOP","k":41,"v":0.1875},{"m":"LoOP","k":42,"v":0.1875},{"m":"LoOP","k":43,"v":0.1875},{"m":"LoOP","k":44,"v":0.1875},{"m":"LoOP","k":45,"v":0.1875},{"m":"LoOP","k":46,"v":0.1875},{"m":"LoOP","k":47,"v":0.1875},{"m":"LoOP","k":48,"v":0.1875},{"m":"LoOP","k":49,"v":0.1875},{"m":"LoOP","k":50,"v":0.1875},
{"m":"LoOP","k":51,"v":0.1875},{"m":"LoOP","k":52,"v":0.1875},{"m":"LoOP","k":53,"v":0.1875},{"m":"LoOP","k":54,"v":0.1875},{"m":"LoOP","k":55,"v":0.1875},{"m":"LoOP","k":56,"v":0.1875},{"m":"LoOP","k":57,"v":0.1875},{"m":"LoOP","k":58,"v":0.1875},{"m":"LoOP","k":59,"v":0.1875},{"m":"LoOP","k":60,"v":0.1875},
{"m":"LoOP","k":61,"v":0.1875},{"m":"LoOP","k":62,"v":0.1875},{"m":"LoOP","k":63,"v":0.1875},{"m":"LoOP","k":64,"v":0.1875},{"m":"LoOP","k":65,"v":0.1875},{"m":"LoOP","k":66,"v":0.1875},{"m":"LoOP","k":67,"v":0.1875},{"m":"LoOP","k":68,"v":0.1875},{"m":"LoOP","k":69,"v":0.1875},{"m":"LoOP","k":70,"v":0.1875},
{"m":"LoOP","k":71,"v":0.1875},{"m":"LoOP","k":72,"v":0.1875},{"m":"LoOP","k":73,"v":0.1875},{"m":"LoOP","k":74,"v":0.1875},{"m":"LoOP","k":75,"v":0.1875},{"m":"LoOP","k":76,"v":0.1875},{"m":"LoOP","k":77,"v":0.1875},{"m":"LoOP","k":78,"v":0.1875},{"m":"LoOP","k":79,"v":0.1875},{"m":"LoOP","k":80,"v":0.1875},
{"m":"LoOP","k":81,"v":0.1875},{"m":"LoOP","k":82,"v":0.1875},{"m":"LoOP","k":83,"v":0.1875},{"m":"LoOP","k":84,"v":0.1875},{"m":"LoOP","k":85,"v":0.1875},{"m":"LoOP","k":86,"v":0.1875},{"m":"LoOP","k":87,"v":0.1875},{"m":"LoOP","k":88,"v":0.1875},{"m":"LoOP","k":89,"v":0.1875},{"m":"LoOP","k":90,"v":0.1875},
{"m":"LoOP","k":91,"v":0.1875},{"m":"LoOP","k":92,"v":0.1875},{"m":"LoOP","k":93,"v":0.1875},{"m":"LoOP","k":94,"v":0.1875},{"m":"LoOP","k":95,"v":0.1875},{"m":"LoOP","k":96,"v":0.1875},{"m":"LoOP","k":97,"v":0.1875},{"m":"LoOP","k":98,"v":0.1875},{"m":"LoOP","k":99,"v":0.1875},{"m":"LoOP","k":100,"v":0.1875},
{"m":"SimplifiedLOF","k":1,"v":0.0625},{"m":"SimplifiedLOF","k":2,"v":0.125},{"m":"SimplifiedLOF","k":3,"v":0.125},{"m":"SimplifiedLOF","k":4,"v":0.1875},{"m":"SimplifiedLOF","k":5,"v":0.1875},{"m":"SimplifiedLOF","k":6,"v":0.1875},{"m":"SimplifiedLOF","k":7,"v":0.1875},{"m":"SimplifiedLOF","k":8,"v":0.1875},{"m":"SimplifiedLOF","k":9,"v":0.1875},{"m":"SimplifiedLOF","k":10,"v":0.1875},
{"m":"SimplifiedLOF","k":11,"v":0.1875},{"m":"SimplifiedLOF","k":12,"v":0.1875},{"m":"SimplifiedLOF","k":13,"v":0.1875},{"m":"SimplifiedLOF","k":14,"v":0.1875},{"m":"SimplifiedLOF","k":15,"v":0.1875},{"m":"SimplifiedLOF","k":16,"v":0.1875},{"m":"SimplifiedLOF","k":17,"v":0.1875},{"m":"SimplifiedLOF","k":18,"v":0.1875},{"m":"SimplifiedLOF","k":19,"v":0.1875},{"m":"SimplifiedLOF","k":20,"v":0.1875},
{"m":"SimplifiedLOF","k":21,"v":0.1875},{"m":"SimplifiedLOF","k":22,"v":0.1875},{"m":"SimplifiedLOF","k":23,"v":0.1875},{"m":"SimplifiedLOF","k":24,"v":0.1875},{"m":"SimplifiedLOF","k":25,"v":0.1875},{"m":"SimplifiedLOF","k":26,"v":0.1875},{"m":"SimplifiedLOF","k":27,"v":0.1875},{"m":"SimplifiedLOF","k":28,"v":0.1875},{"m":"SimplifiedLOF","k":29,"v":0.1875},{"m":"SimplifiedLOF","k":30,"v":0.1875},
{"m":"SimplifiedLOF","k":31,"v":0.1875},{"m":"SimplifiedLOF","k":32,"v":0.1875},{"m":"SimplifiedLOF","k":33,"v":0.1875},{"m":"SimplifiedLOF","k":34,"v":0.1875},{"m":"SimplifiedLOF","k":35,"v":0.1875},{"m":"SimplifiedLOF","k":36,"v":0.1875},{"m":"SimplifiedLOF","k":37,"v":0.1875},{"m":"SimplifiedLOF","k":38,"v":0.1875},{"m":"SimplifiedLOF","k":39,"v":0.1875},{"m":"SimplifiedLOF","k":40,"v":0.1875},
{"m":"SimplifiedLOF","k":41,"v":0.1875},{"m":"SimplifiedLOF","k":42,"v":0.1875},{"m":"SimplifiedLOF","k":43,"v":0.1875},{"m":"SimplifiedLOF","k":44,"v":0.1875},{"m":"SimplifiedLOF","k":45,"v":0.1875},{"m":"SimplifiedLOF","k":46,"v":0.1875},{"m":"SimplifiedLOF","k":47,"v":0.1875},{"m":"SimplifiedLOF","k":48,"v":0.1875},{"m":"SimplifiedLOF","k":49,"v":0.1875},{"m":"SimplifiedLOF","k":50,"v":0.1875},
{"m":"SimplifiedLOF","k":51,"v":0.1875},{"m":"SimplifiedLOF","k":52,"v":0.1875},{"m":"SimplifiedLOF","k":53,"v":0.1875},{"m":"SimplifiedLOF","k":54,"v":0.1875},{"m":"SimplifiedLOF","k":55,"v":0.1875},{"m":"SimplifiedLOF","k":56,"v":0.1875},{"m":"SimplifiedLOF","k":57,"v":0.1875},{"m":"SimplifiedLOF","k":58,"v":0.1875},{"m":"SimplifiedLOF","k":59,"v":0.1875},{"m":"SimplifiedLOF","k":60,"v":0.1875},
{"m":"SimplifiedLOF","k":61,"v":0.1875},{"m":"SimplifiedLOF","k":62,"v":0.1875},{"m":"SimplifiedLOF","k":63,"v":0.1875},{"m":"SimplifiedLOF","k":64,"v":0.1875},{"m":"SimplifiedLOF","k":65,"v":0.1875},{"m":"SimplifiedLOF","k":66,"v":0.1875},{"m":"SimplifiedLOF","k":67,"v":0.1875},{"m":"SimplifiedLOF","k":68,"v":0.1875},{"m":"SimplifiedLOF","k":69,"v":0.1875},{"m":"SimplifiedLOF","k":70,"v":0.1875},
{"m":"SimplifiedLOF","k":71,"v":0.1875},{"m":"SimplifiedLOF","k":72,"v":0.1875},{"m":"SimplifiedLOF","k":73,"v":0.1875},{"m":"SimplifiedLOF","k":74,"v":0.1875},{"m":"SimplifiedLOF","k":75,"v":0.1875},{"m":"SimplifiedLOF","k":76,"v":0.1875},{"m":"SimplifiedLOF","k":77,"v":0.1875},{"m":"SimplifiedLOF","k":78,"v":0.1875},{"m":"SimplifiedLOF","k":79,"v":0.1875},{"m":"SimplifiedLOF","k":80,"v":0.1875},
{"m":"SimplifiedLOF","k":81,"v":0.1875},{"m":"SimplifiedLOF","k":82,"v":0.1875},{"m":"SimplifiedLOF","k":83,"v":0.1875},{"m":"SimplifiedLOF","k":84,"v":0.1875},{"m":"SimplifiedLOF","k":85,"v":0.1875},{"m":"SimplifiedLOF","k":86,"v":0.1875},{"m":"SimplifiedLOF","k":87,"v":0.1875},{"m":"SimplifiedLOF","k":88,"v":0.1875},{"m":"SimplifiedLOF","k":89,"v":0.1875},{"m":"SimplifiedLOF","k":90,"v":0.1875},
{"m":"SimplifiedLOF","k":91,"v":0.1875},{"m":"SimplifiedLOF","k":92,"v":0.1875},{"m":"SimplifiedLOF","k":93,"v":0.1875},{"m":"SimplifiedLOF","k":94,"v":0.1875},{"m":"SimplifiedLOF","k":95,"v":0.1875},{"m":"SimplifiedLOF","k":96,"v":0.1875},{"m":"SimplifiedLOF","k":97,"v":0.1875},{"m":"SimplifiedLOF","k":98,"v":0.1875},{"m":"SimplifiedLOF","k":99,"v":0.1875},{"m":"SimplifiedLOF","k":100,"v":0.1875},
{"m":"LOF","k":1,"v":0.125},{"m":"LOF","k":2,"v":0.125},{"m":"LOF","k":3,"v":0.1875},{"m":"LOF","k":4,"v":0.1875},{"m":"LOF","k":5,"v":0.1875},{"m":"LOF","k":6,"v":0.1875},{"m":"LOF","k":7,"v":0.1875},{"m":"LOF","k":8,"v":0.1875},{"m":"LOF","k":9,"v":0.1875},{"m":"LOF","k":10,"v":0.1875},
{"m":"LOF","k":11,"v":0.1875},{"m":"LOF","k":12,"v":0.1875},{"m":"LOF","k":13,"v":0.1875},{"m":"LOF","k":14,"v":0.1875},{"m":"LOF","k":15,"v":0.1875},{"m":"LOF","k":16,"v":0.1875},{"m":"LOF","k":17,"v":0.1875},{"m":"LOF","k":18,"v":0.1875},{"m":"LOF","k":19,"v":0.1875},{"m":"LOF","k":20,"v":0.1875},
{"m":"LOF","k":21,"v":0.1875},{"m":"LOF","k":22,"v":0.1875},{"m":"LOF","k":23,"v":0.1875},{"m":"LOF","k":24,"v":0.1875},{"m":"LOF","k":25,"v":0.1875},{"m":"LOF","k":26,"v":0.1875},{"m":"LOF","k":27,"v":0.1875},{"m":"LOF","k":28,"v":0.1875},{"m":"LOF","k":29,"v":0.1875},{"m":"LOF","k":30,"v":0.1875},
{"m":"LOF","k":31,"v":0.1875},{"m":"LOF","k":32,"v":0.1875},{"m":"LOF","k":33,"v":0.1875},{"m":"LOF","k":34,"v":0.1875},{"m":"LOF","k":35,"v":0.1875},{"m":"LOF","k":36,"v":0.1875},{"m":"LOF","k":37,"v":0.1875},{"m":"LOF","k":38,"v":0.1875},{"m":"LOF","k":39,"v":0.1875},{"m":"LOF","k":40,"v":0.1875},
{"m":"LOF","k":41,"v":0.1875},{"m":"LOF","k":42,"v":0.1875},{"m":"LOF","k":43,"v":0.1875},{"m":"LOF","k":44,"v":0.1875},{"m":"LOF","k":45,"v":0.1875},{"m":"LOF","k":46,"v":0.1875},{"m":"LOF","k":47,"v":0.1875},{"m":"LOF","k":48,"v":0.1875},{"m":"LOF","k":49,"v":0.1875},{"m":"LOF","k":50,"v":0.1875},
{"m":"LOF","k":51,"v":0.1875},{"m":"LOF","k":52,"v":0.1875},{"m":"LOF","k":53,"v":0.1875},{"m":"LOF","k":54,"v":0.1875},{"m":"LOF","k":55,"v":0.1875},{"m":"LOF","k":56,"v":0.1875},{"m":"LOF","k":57,"v":0.1875},{"m":"LOF","k":58,"v":0.1875},{"m":"LOF","k":59,"v":0.1875},{"m":"LOF","k":60,"v":0.1875},
{"m":"LOF","k":61,"v":0.1875},{"m":"LOF","k":62,"v":0.1875},{"m":"LOF","k":63,"v":0.1875},{"m":"LOF","k":64,"v":0.1875},{"m":"LOF","k":65,"v":0.1875},{"m":"LOF","k":66,"v":0.1875},{"m":"LOF","k":67,"v":0.1875},{"m":"LOF","k":68,"v":0.1875},{"m":"LOF","k":69,"v":0.1875},{"m":"LOF","k":70,"v":0.1875},
{"m":"LOF","k":71,"v":0.1875},{"m":"LOF","k":72,"v":0.1875},{"m":"LOF","k":73,"v":0.1875},{"m":"LOF","k":74,"v":0.1875},{"m":"LOF","k":75,"v":0.1875},{"m":"LOF","k":76,"v":0.1875},{"m":"LOF","k":77,"v":0.1875},{"m":"LOF","k":78,"v":0.1875},{"m":"LOF","k":79,"v":0.1875},{"m":"LOF","k":80,"v":0.1875},
{"m":"LOF","k":81,"v":0.1875},{"m":"LOF","k":82,"v":0.1875},{"m":"LOF","k":83,"v":0.1875},{"m":"LOF","k":84,"v":0.1875},{"m":"LOF","k":85,"v":0.125},{"m":"LOF","k":86,"v":0.125},{"m":"LOF","k":87,"v":0.125},{"m":"LOF","k":88,"v":0.125},{"m":"LOF","k":89,"v":0.125},{"m":"LOF","k":90,"v":0.125},
{"m":"LOF","k":91,"v":0.125},{"m":"LOF","k":92,"v":0.125},{"m":"LOF","k":93,"v":0.125},{"m":"LOF","k":94,"v":0.125},{"m":"LOF","k":95,"v":0.125},{"m":"LOF","k":96,"v":0.125},{"m":"LOF","k":97,"v":0.125},{"m":"LOF","k":98,"v":0.125},{"m":"LOF","k":99,"v":0.125},{"m":"LOF","k":100,"v":0.125},
{"m":"kNNW","k":1,"v":0.125},{"m":"kNNW","k":2,"v":0.125},{"m":"kNNW","k":3,"v":0.125},{"m":"kNNW","k":4,"v":0.125},{"m":"kNNW","k":5,"v":0.125},{"m":"kNNW","k":6,"v":0.125},{"m":"kNNW","k":7,"v":0.125},{"m":"kNNW","k":8,"v":0.125},{"m":"kNNW","k":9,"v":0.125},{"m":"kNNW","k":10,"v":0.125},
{"m":"kNNW","k":11,"v":0.125},{"m":"kNNW","k":12,"v":0.125},{"m":"kNNW","k":13,"v":0.125},{"m":"kNNW","k":14,"v":0.125},{"m":"kNNW","k":15,"v":0.125},{"m":"kNNW","k":16,"v":0.125},{"m":"kNNW","k":17,"v":0.125},{"m":"kNNW","k":18,"v":0.125},{"m":"kNNW","k":19,"v":0.125},{"m":"kNNW","k":20,"v":0.125},
{"m":"kNNW","k":21,"v":0.125},{"m":"kNNW","k":22,"v":0.125},{"m":"kNNW","k":23,"v":0.125},{"m":"kNNW","k":24,"v":0.125},{"m":"kNNW","k":25,"v":0.125},{"m":"kNNW","k":26,"v":0.125},{"m":"kNNW","k":27,"v":0.125},{"m":"kNNW","k":28,"v":0.125},{"m":"kNNW","k":29,"v":0.125},{"m":"kNNW","k":30,"v":0.125},
{"m":"kNNW","k":31,"v":0.125},{"m":"kNNW","k":32,"v":0.125},{"m":"kNNW","k":33,"v":0.125},{"m":"kNNW","k":34,"v":0.125},{"m":"kNNW","k":35,"v":0.125},{"m":"kNNW","k":36,"v":0.125},{"m":"kNNW","k":37,"v":0.125},{"m":"kNNW","k":38,"v":0.125},{"m":"kNNW","k":39,"v":0.125},{"m":"kNNW","k":40,"v":0.125},
{"m":"kNNW","k":41,"v":0.125},{"m":"kNNW","k":42,"v":0.125},{"m":"kNNW","k":43,"v":0.125},{"m":"kNNW","k":44,"v":0.125},{"m":"kNNW","k":45,"v":0.125},{"m":"kNNW","k":46,"v":0.125},{"m":"kNNW","k":47,"v":0.125},{"m":"kNNW","k":48,"v":0.125},{"m":"kNNW","k":49,"v":0.125},{"m":"kNNW","k":50,"v":0.125},
{"m":"kNNW","k":51,"v":0.125},{"m":"kNNW","k":52,"v":0.125},{"m":"kNNW","k":53,"v":0.125},{"m":"kNNW","k":54,"v":0.125},{"m":"kNNW","k":55,"v":0.125},{"m":"kNNW","k":56,"v":0.125},{"m":"kNNW","k":57,"v":0.125},{"m":"kNNW","k":58,"v":0.125},{"m":"kNNW","k":59,"v":0.125},{"m":"kNNW","k":60,"v":0.125},
{"m":"kNNW","k":61,"v":0.125},{"m":"kNNW","k":62,"v":0.125},{"m":"kNNW","k":63,"v":0.125},{"m":"kNNW","k":64,"v":0.125},{"m":"kNNW","k":65,"v":0.125},{"m":"kNNW","k":66,"v":0.125},{"m":"kNNW","k":67,"v":0.125},{"m":"kNNW","k":68,"v":0.125},{"m":"kNNW","k":69,"v":0.125},{"m":"kNNW","k":70,"v":0.125},
{"m":"kNNW","k":71,"v":0.125},{"m":"kNNW","k":72,"v":0.125},{"m":"kNNW","k":73,"v":0.125},{"m":"kNNW","k":74,"v":0.125},{"m":"kNNW","k":75,"v":0.125},{"m":"kNNW","k":76,"v":0.125},{"m":"kNNW","k":77,"v":0.125},{"m":"kNNW","k":78,"v":0.125},{"m":"kNNW","k":79,"v":0.125},{"m":"kNNW","k":80,"v":0.125},
{"m":"kNNW","k":81,"v":0.125},{"m":"kNNW","k":82,"v":0.125},{"m":"kNNW","k":83,"v":0.125},{"m":"kNNW","k":84,"v":0.125},{"m":"kNNW","k":85,"v":0.125},{"m":"kNNW","k":86,"v":0.125},{"m":"kNNW","k":87,"v":0.125},{"m":"kNNW","k":88,"v":0.125},{"m":"kNNW","k":89,"v":0.125},{"m":"kNNW","k":90,"v":0.125},
{"m":"kNNW","k":91,"v":0.125},{"m":"kNNW","k":92,"v":0.125},{"m":"kNNW","k":93,"v":0.125},{"m":"kNNW","k":94,"v":0.125},{"m":"kNNW","k":95,"v":0.125},{"m":"kNNW","k":96,"v":0.125},{"m":"kNNW","k":97,"v":0.125},{"m":"kNNW","k":98,"v":0.125},{"m":"kNNW","k":99,"v":0.125},{"m":"kNNW","k":100,"v":0.125},
{"m":"kNN","k":1,"v":0.1875},{"m":"kNN","k":2,"v":0.125},{"m":"kNN","k":3,"v":0.125},{"m":"kNN","k":4,"v":0.125},{"m":"kNN","k":5,"v":0.125},{"m":"kNN","k":6,"v":0.1875},{"m":"kNN","k":7,"v":0.125},{"m":"kNN","k":8,"v":0.1875},{"m":"kNN","k":9,"v":0.1875},{"m":"kNN","k":10,"v":0.1875},
{"m":"kNN","k":11,"v":0.1875},{"m":"kNN","k":12,"v":0.1875},{"m":"kNN","k":13,"v":0.25},{"m":"kNN","k":14,"v":0.25},{"m":"kNN","k":15,"v":0.25},{"m":"kNN","k":16,"v":0.1875},{"m":"kNN","k":17,"v":0.25},{"m":"kNN","k":18,"v":0.1875},{"m":"kNN","k":19,"v":0.1875},{"m":"kNN","k":20,"v":0.1875},
{"m":"kNN","k":21,"v":0.25},{"m":"kNN","k":22,"v":0.1875},{"m":"kNN","k":23,"v":0.1875},{"m":"kNN","k":24,"v":0.1875},{"m":"kNN","k":25,"v":0.1875},{"m":"kNN","k":26,"v":0.1875},{"m":"kNN","k":27,"v":0.1875},{"m":"kNN","k":28,"v":0.1875},{"m":"kNN","k":29,"v":0.1875},{"m":"kNN","k":30,"v":0.1875},
{"m":"kNN","k":31,"v":0.125},{"m":"kNN","k":32,"v":0.125},{"m":"kNN","k":33,"v":0.1875},{"m":"kNN","k":34,"v":0.125},{"m":"kNN","k":35,"v":0.125},{"m":"kNN","k":36,"v":0.125},{"m":"kNN","k":37,"v":0.125},{"m":"kNN","k":38,"v":0.125},{"m":"kNN","k":39,"v":0.125},{"m":"kNN","k":40,"v":0.125},
{"m":"kNN","k":41,"v":0.125},{"m":"kNN","k":42,"v":0.125},{"m":"kNN","k":43,"v":0.125},{"m":"kNN","k":44,"v":0.125},{"m":"kNN","k":45,"v":0.125},{"m":"kNN","k":46,"v":0.125},{"m":"kNN","k":47,"v":0.125},{"m":"kNN","k":48,"v":0.125},{"m":"kNN","k":49,"v":0.125},{"m":"kNN","k":50,"v":0.125},
{"m":"kNN","k":51,"v":0.125},{"m":"kNN","k":52,"v":0.125},{"m":"kNN","k":53,"v":0.125},{"m":"kNN","k":54,"v":0.125},{"m":"kNN","k":55,"v":0.125},{"m":"kNN","k":56,"v":0.125},{"m":"kNN","k":57,"v":0.125},{"m":"kNN","k":58,"v":0.125},{"m":"kNN","k":59,"v":0.125},{"m":"kNN","k":60,"v":0.125},
{"m":"kNN","k":61,"v":0.125},{"m":"kNN","k":62,"v":0.125},{"m":"kNN","k":63,"v":0.125},{"m":"kNN","k":64,"v":0.125},{"m":"kNN","k":65,"v":0.125},{"m":"kNN","k":66,"v":0.125},{"m":"kNN","k":67,"v":0.125},{"m":"kNN","k":68,"v":0.125},{"m":"kNN","k":69,"v":0.125},{"m":"kNN","k":70,"v":0.125},
{"m":"kNN","k":71,"v":0.125},{"m":"kNN","k":72,"v":0.125},{"m":"kNN","k":73,"v":0.125},{"m":"kNN","k":74,"v":0.125},{"m":"kNN","k":75,"v":0.125},{"m":"kNN","k":76,"v":0.125},{"m":"kNN","k":77,"v":0.125},{"m":"kNN","k":78,"v":0.125},{"m":"kNN","k":79,"v":0.125},{"m":"kNN","k":80,"v":0.125},
{"m":"kNN","k":81,"v":0.125},{"m":"kNN","k":82,"v":0.125},{"m":"kNN","k":83,"v":0.125},{"m":"kNN","k":84,"v":0.1875},{"m":"kNN","k":85,"v":0.1875},{"m":"kNN","k":86,"v":0.1875},{"m":"kNN","k":87,"v":0.125},{"m":"kNN","k":88,"v":0.125},{"m":"kNN","k":89,"v":0.125},{"m":"kNN","k":90,"v":0.1875},
{"m":"kNN","k":91,"v":0.1875},{"m":"kNN","k":92,"v":0.1875},{"m":"kNN","k":93,"v":0.1875},{"m":"kNN","k":94,"v":0.1875},{"m":"kNN","k":95,"v":0.1875},{"m":"kNN","k":96,"v":0.1875},{"m":"kNN","k":97,"v":0.1875},{"m":"kNN","k":98,"v":0.1875},{"m":"kNN","k":99,"v":0.1875},{"m":"kNN","k":100,"v":0.1875}
]},
"layer": [
  {
    "mark": {"type": "line", "strokeDash": [3, 2], "strokeWidth": 1},
    "encoding": {
      "x": {"field": "k", "type": "quantitative", "scale": {"domain": [0, 101], "nice": false, "zero": false},
            "axis": {"values": [1, 10, 20, 30, 40, 50, 60, 70, 80, 90, 100], "title": "Neighborhood size", "labelPadding": 4.5, "titleX": 315.5, "titleY": 58, "titleBaseline": "alphabetic", "zindex": 1}},
      "y": {"field": "v", "type": "quantitative", "scale": {"domain": [0, 0.4], "nice": false, "zero": false},
            "axis": {"values": [0, 0.1, 0.2, 0.3, 0.4], "format": ".1f", "title": "P@n", "labelPadding": 2.5, "titleX": -54, "titleY": 155.5, "titleBaseline": "middle", "titleAlign": "center"}},
      "color": {"field": "m", "type": "nominal",
                "scale": {"domain": ["kNN","kNNW","LOF","SimplifiedLOF","LoOP","LDOF","ODIN","KDEOS","COF","FastABOD","LDF","INFLO"],
                          "range": ["#0000FF","#FF0000","#00FF00","#000000","#EEEE00","#C0C0FF","#A020F0","#FFA500","#000080","#FFBBFF","#C03030","#9ACD32"]},
                "legend": null}
    }
  },
  {
    "mark": {"type": "point", "filled": false, "size": 46, "strokeWidth": 1, "opacity": 1},
    "encoding": {
      "x": {"field": "k", "type": "quantitative"},
      "y": {"field": "v", "type": "quantitative"},
      "color": {"field": "m", "type": "nominal",
                "scale": {"domain": ["kNN","kNNW","LOF","SimplifiedLOF","LoOP","LDOF","ODIN","KDEOS","COF","FastABOD","LDF","INFLO"],
                          "range": ["#0000FF","#FF0000","#00FF00","#000000","#EEEE00","#C0C0FF","#A020F0","#FFA500","#000080","#FFBBFF","#C03030","#9ACD32"]},
                "legend": null},
      "shape": {"field": "m", "type": "nominal",
                "scale": {"domain": ["kNN","kNNW","LOF","SimplifiedLOF","LoOP","LDOF","ODIN","KDEOS","COF","FastABOD","LDF","INFLO"],
                          "range": [
                            "M-1,-1H1V1H-1Z",
                            "M-1,0A1,1,0,1,1,1,0A1,1,0,1,1,-1,0Z",
                            "M0,-1.15L1.1,0.85H-1.1Z",
                            "M-1.3,0H1.3M0,-1.3V1.3",
                            "M-1,-1L1,1M-1,1L1,-1",
                            "M0,-1.35L1.35,0L0,1.35L-1.35,0Z",
                            "M0,1.15L1.1,-0.85H-1.1Z",
                            "M-1,-1H1V1H-1ZM-1,-1L1,1M-1,1L1,-1",
                            "M-1.3,0H1.3M0,-1.3V1.3M-0.95,-0.95L0.95,0.95M-0.95,0.95L0.95,-0.95",
                            "M0,-1.35L1.35,0L0,1.35L-1.35,0ZM-1.35,0H1.35M0,-1.35V1.35",
                            "M-1,0A1,1,0,1,1,1,0A1,1,0,1,1,-1,0ZM-1,0H1M0,-1V1",
                            "M0,-1.2L1.05,0.6H-1.05ZM0,1.2L1.05,-0.6H-1.05Z"]},
                "legend": null}
    }
  },
  {
    "transform": [{"filter": "datum.k < 0"}],
    "mark": {"type": "point", "filled": false, "size": 36, "strokeWidth": 1, "opacity": 1},
    "encoding": {
      "x": {"field": "k", "type": "quantitative"},
      "y": {"field": "v", "type": "quantitative"},
      "color": {"field": "m", "type": "nominal",
                "scale": {"domain": ["kNN","kNNW","LOF","SimplifiedLOF","LoOP","LDOF","ODIN","KDEOS","COF","FastABOD","LDF","INFLO"],
                          "range": ["#0000FF","#FF0000","#00FF00","#000000","#EEEE00","#C0C0FF","#A020F0","#FFA500","#000080","#FFBBFF","#C03030","#9ACD32"]},
                "legend": {"orient": "none", "legendX": 43.7, "legendY": 384, "direction": "horizontal", "columns": 6, "title": null, "columnPadding": 22, "rowPadding": 4.5, "labelFont": "DejaVu Sans", "labelFontSize": 12.4, "labelColor": "#000000", "labelOffset": 12.7, "symbolSize": 36, "symbolStrokeWidth": 1, "padding": 0, "labelLimit": 0}},
      "shape": {"field": "m", "type": "nominal",
                "scale": {"domain": ["kNN","kNNW","LOF","SimplifiedLOF","LoOP","LDOF","ODIN","KDEOS","COF","FastABOD","LDF","INFLO"],
                          "range": [
                            "M-3.1,0H-1.8M1.8,0H3.1M-1,-1H1V1H-1Z",
                            "M-3.1,0H-1.8M1.8,0H3.1M-1,0A1,1,0,1,1,1,0A1,1,0,1,1,-1,0Z",
                            "M-3.1,0H-1.8M1.8,0H3.1M0,-1.15L1.1,0.85H-1.1Z",
                            "M-3.1,0H-1.8M1.8,0H3.1M-1.3,0H1.3M0,-1.3V1.3",
                            "M-3.1,0H-1.8M1.8,0H3.1M-1,-1L1,1M-1,1L1,-1",
                            "M-3.1,0H-1.8M1.8,0H3.1M0,-1.35L1.35,0L0,1.35L-1.35,0Z",
                            "M-3.1,0H-1.8M1.8,0H3.1M0,1.15L1.1,-0.85H-1.1Z",
                            "M-3.1,0H-1.8M1.8,0H3.1M-1,-1H1V1H-1ZM-1,-1L1,1M-1,1L1,-1",
                            "M-3.1,0H-1.8M1.8,0H3.1M-1.3,0H1.3M0,-1.3V1.3M-0.95,-0.95L0.95,0.95M-0.95,0.95L0.95,-0.95",
                            "M-3.1,0H-1.8M1.8,0H3.1M0,-1.35L1.35,0L0,1.35L-1.35,0ZM-1.35,0H1.35M0,-1.35V1.35",
                            "M-3.1,0H-1.8M1.8,0H3.1M-1,0A1,1,0,1,1,1,0A1,1,0,1,1,-1,0ZM-1,0H1M0,-1V1",
                            "M-3.1,0H-1.8M1.8,0H3.1M0,-1.2L1.05,0.6H-1.05ZM0,1.2L1.05,-0.6H-1.05Z"]}}
    }
  },
  {
    "data": {"values": [{"note": "watermark"}]},
    "mark": {"type": "text", "text": ["Evaluation of Unsupervised Outlier Detection. DAMI, 2015.", "Campos, Zimek, Sander, Campello, Micenkova, Schubert, Assent, Houle"], "font": "DejaVu Sans", "fontWeight": "bold", "fontSize": 8.7, "color": "#aaaaaa", "align": "center", "baseline": "alphabetic", "lineHeight": 10},
    "encoding": {
      "x": {"datum": 72.35, "type": "quantitative"},
      "y": {"datum": -0.0772, "type": "quantitative"}
    }
  }
],
"resolve": {"scale": {"color": "independent", "shape": "independent"}}
}
